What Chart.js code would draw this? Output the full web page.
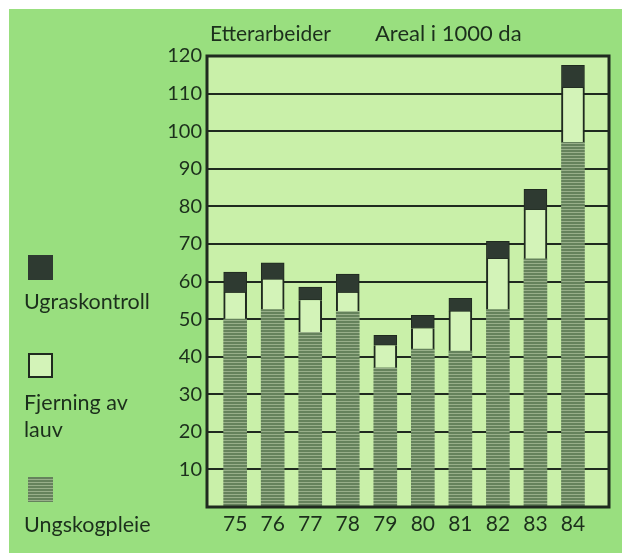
<!DOCTYPE html>
<html>
<head>
<meta charset="utf-8">
<script src="https://cdn.jsdelivr.net/npm/chart.js@4.4.0/dist/chart.umd.min.js"></script>
<style>
  html, body { margin: 0; padding: 0; background: #fff; }
  #wrap { width: 622px; height: 553px; }
</style>
</head>
<body>
<div id="wrap"><canvas id="chart" width="622" height="553"></canvas></div>
<script>
// data (1000 da)
const categories = ['75', '76', '77', '78', '79', '80', '81', '82', '83', '84'];
const ungskogpleie = [50, 52.5, 46.5, 52, 37, 42, 41.5, 52.5, 66, 97];
const fjerning = [7, 8, 8.5, 5, 6, 5.5, 10.5, 13.5, 13, 14.5];
const ugraskontroll = [5.5, 4.5, 3.5, 5, 2.7, 3.5, 3.5, 4.7, 5.5, 6];
const yTicks = [10, 20, 30, 40, 50, 60, 70, 80, 90, 100, 110, 120];

const FONT = 'Lato, "Open Sans", sans-serif';
const TEXT = '#1c2f1c';
const DARK = '#2e3a31';
const LINE = '#1f2a1f';
const LIGHT = '#d3f3b8';

// striped fill for ungskogpleie
function stripes() {
  const c = document.createElement('canvas');
  c.width = 4; c.height = 3;
  const g = c.getContext('2d');
  g.fillStyle = '#65825c';
  g.fillRect(0, 0, 4, 3);
  g.fillStyle = '#98af8a';
  g.fillRect(0, 2, 4, 1);
  return g.createPattern(c, 'repeat');
}
const stripe = stripes();

function points(values) {
  return categories.map((c, i) => ({ x: Number(c), y: values[i] }));
}

const pynt = {
  id: 'pynt',
  beforeDraw(chart) {
    const { ctx, chartArea: a } = chart;
    ctx.save();
    ctx.fillStyle = '#ffffff';
    ctx.fillRect(0, 0, chart.width, chart.height);
    ctx.fillStyle = '#99df7f';
    ctx.fillRect(9, 9, chart.width - 9, chart.height - 9);
    ctx.fillStyle = '#c9f0a9';
    ctx.fillRect(a.left, a.top, a.right - a.left, a.bottom - a.top);
    ctx.restore();
  },
  afterDatasetsDraw(chart) {
    const { ctx, chartArea: a } = chart;
    ctx.save();
    ctx.strokeStyle = LINE;
    ctx.lineWidth = 3;
    ctx.strokeRect(a.left, a.top, a.right - a.left, a.bottom - a.top);
    ctx.restore();
  },
  afterDraw(chart) {
    const ctx = chart.ctx;
    const ds = chart.data.datasets;
    ctx.save();
    ctx.fillStyle = TEXT;
    ctx.font = '21px ' + FONT;
    ctx.textBaseline = 'middle';
    ctx.fillText('Etterarbeider', 210, 34);
    ctx.font = '22px ' + FONT;
    ctx.fillText('Areal i 1000 da', 375, 34);

    // legend, top to bottom
    ctx.font = '21.5px ' + FONT;
    const rows = [
      { d: ds[2], box: 255, lines: [ds[2].label], ty: 302 },
      { d: ds[1], box: 353, lines: ['Fjerning av', 'lauv'], ty: 403 },
      { d: ds[0], box: 477, lines: [ds[0].label], ty: 525 }
    ];
    rows.forEach(r => {
      ctx.fillStyle = r.d.backgroundColor;
      ctx.fillRect(28, r.box, 25, 25);
      if (r.d === ds[1]) {
        ctx.strokeStyle = LINE;
        ctx.lineWidth = 2;
        ctx.strokeRect(29, r.box + 1, 23, 23);
      }
      ctx.fillStyle = TEXT;
      r.lines.forEach((t, i) => ctx.fillText(t, 24, r.ty + i * 27));
    });
    ctx.restore();
  }
};

new Chart(document.getElementById('chart'), {
  type: 'bar',
  data: {
    datasets: [
      {
        label: 'Ungskogpleie',
        data: points(ungskogpleie),
        backgroundColor: stripe,
        borderWidth: 0
      },
      {
        label: 'Fjerning av lauv',
        data: points(fjerning),
        backgroundColor: LIGHT,
        borderColor: LINE,
        borderWidth: { left: 2, right: 2, top: 0, bottom: 0 },
        borderSkipped: false
      },
      {
        label: 'Ugraskontroll',
        data: points(ugraskontroll),
        backgroundColor: DARK,
        borderColor: LINE,
        borderWidth: 1,
        borderSkipped: false
      }
    ]
  },
  options: {
    responsive: false,
    animation: false,
    barThickness: 23,
    layout: { padding: { left: 0, right: 13, top: 56, bottom: 0 } },
    plugins: {
      legend: { display: false },
      tooltip: { enabled: false }
    },
    scales: {
      x: {
        type: 'linear',
        offset: false,
        stacked: true,
        min: 74.25,
        max: 84.96,
        afterBuildTicks: s => { s.ticks = categories.map(c => ({ value: Number(c) })); },
        afterFit: s => { s.height = 46; },
        grid: { display: false, drawTicks: false },
        border: { display: false },
        ticks: {
          color: TEXT,
          font: { family: FONT, size: 21 },
          padding: 5,
          maxRotation: 0,
          autoSkip: false,
          callback: v => String(v)
        }
      },
      y: {
        stacked: true,
        min: 0,
        max: 120,
        afterBuildTicks: s => { s.ticks = [0].concat(yTicks).map(v => ({ value: v })); },
        afterFit: s => { s.width = 207; },
        grid: { color: LINE, lineWidth: 2, drawTicks: false },
        border: { display: false },
        ticks: {
          color: TEXT,
          font: { family: FONT, size: 20 },
          padding: 5,
          callback: v => (v === 0 ? '' : String(v))
        }
      }
    }
  },
  plugins: [pynt]
});
</script>
</body>
</html>
